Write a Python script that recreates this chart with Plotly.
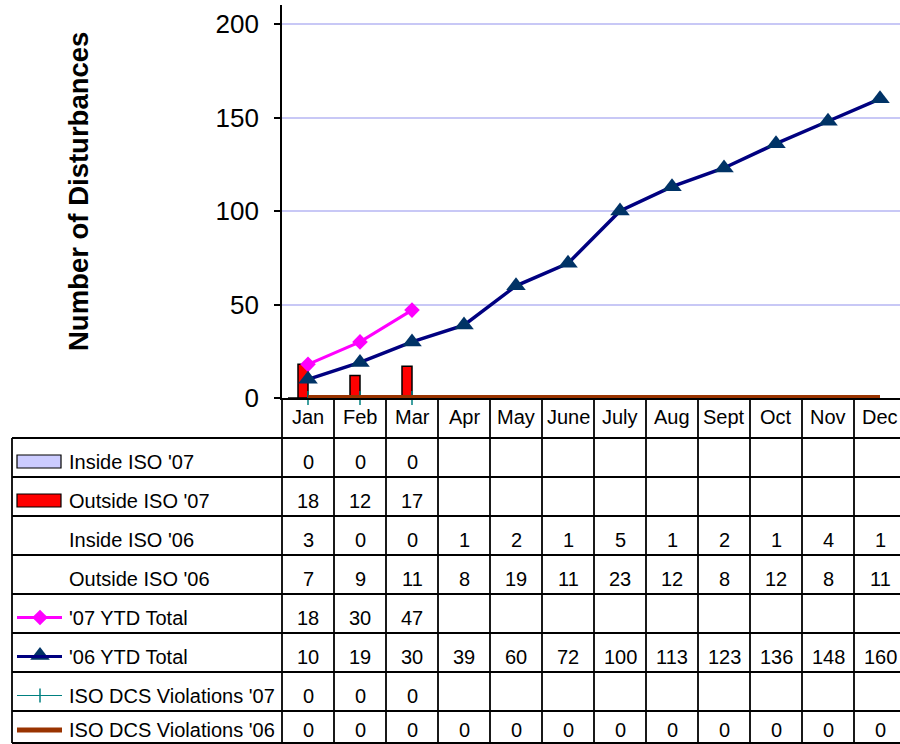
import plotly.graph_objects as go

months = ["Jan", "Feb", "Mar", "Apr", "May", "June", "July", "Aug", "Sept", "Oct", "Nov", "Dec"]
inside07 = [0, 0, 0]
outside07 = [18, 12, 17]
inside06 = [3, 0, 0, 1, 2, 1, 5, 1, 2, 1, 4, 1]
outside06 = [7, 9, 11, 8, 19, 11, 23, 12, 8, 12, 8, 11]
ytd07 = [18, 30, 47]
ytd06 = [10, 19, 30, 39, 60, 72, 100, 113, 123, 136, 148, 160]
dcs07 = [0, 0, 0]
dcs06 = [0, 0, 0, 0, 0, 0, 0, 0, 0, 0, 0, 0]
yticks = [0, 50, 100, 150, 200]

row_names = ["Inside ISO '07", "Outside ISO '07", "Inside ISO '06", "Outside ISO '06",
             "'07 YTD Total", "'06 YTD Total", "ISO DCS Violations '07", "ISO DCS Violations '06"]
row_values = [inside07, outside07, inside06, outside06, ytd07, ytd06, dcs07, dcs06]

FONT = "Arial, Liberation Sans, sans-serif"
W, H = 900, 744
PL, PR = 282, 900        # plot area left/right (px)
PT, PB = 5, 398          # plot area top/bottom (px)
CW = 52.0                # category width in px
ROW_TOP = 438
ROW_H = 39
TBL_BOTTOM = 743
LEFT = 12

NAVY = "#000080"
NAVY_M = "#003366"
MAG = "#FF00FF"
TEAL = "#008080"
BROWN = "#993300"
LAV = "#CCCCFF"
GRID = "#C8C8F6"

fig = go.Figure()

# bars (4-series cluster; '06 series have no fill)
fig.add_trace(go.Bar(x=months[:len(inside07)], y=inside07, name="Inside ISO '07",
                     marker=dict(color=LAV, line=dict(color="black", width=1.5))))
fig.add_trace(go.Bar(x=months[:len(outside07)], y=outside07, name="Outside ISO '07",
                     marker=dict(color="#FF0000", line=dict(color="black", width=1.5))))
fig.add_trace(go.Bar(x=months, y=inside06, name="Inside ISO '06",
                     marker=dict(color="rgba(0,0,0,0)", line=dict(width=0))))
fig.add_trace(go.Bar(x=months, y=outside06, name="Outside ISO '06",
                     marker=dict(color="rgba(0,0,0,0)", line=dict(width=0))))

# lines
fig.add_trace(go.Scatter(x=months[:len(ytd07)], y=ytd07, mode="lines+markers", name="'07 YTD Total",
                         line=dict(color=MAG, width=3),
                         marker=dict(symbol="diamond", size=12, color=MAG)))
fig.add_trace(go.Scatter(x=months, y=ytd06, mode="lines+markers", name="'06 YTD Total",
                         line=dict(color=NAVY, width=3.5),
                         marker=dict(symbol="triangle-up", size=17, color=NAVY_M)))
fig.add_trace(go.Scatter(x=months[:len(dcs07)], y=dcs07, mode="lines+markers", name="ISO DCS Violations '07",
                         line=dict(color=TEAL, width=1), cliponaxis=False,
                         marker=dict(symbol="line-ns", size=10, line=dict(color=TEAL, width=1.5))))
fig.add_trace(go.Scatter(x=months, y=dcs06, mode="lines", name="ISO DCS Violations '06",
                         line=dict(color=BROWN, width=6)))

# legend keys in the table's left column (aux pixel axes)
def rc(i):
    c = ROW_TOP + ROW_H * i + ROW_H / 2 + 4
    return min(c, TBL_BOTTOM - 13)

key_x0, key_x1, key_xm = 17, 62, 40
shapes = []
for i, col in [(0, LAV), (1, "#FF0000")]:
    shapes.append(dict(type="rect", xref="x2", yref="y2", x0=key_x0, x1=61,
                       y0=rc(i) - 6.5, y1=rc(i) + 6.5, fillcolor=col,
                       line=dict(color="black", width=1.2)))
key_lines = [(4, MAG, 3), (5, NAVY, 3), (6, TEAL, 1), (7, BROWN, 5)]
for i, col, w in key_lines:
    shapes.append(dict(type="line", xref="x2", yref="y2", x0=key_x0, x1=key_x1,
                       y0=rc(i), y1=rc(i), line=dict(color=col, width=w)))

fig.add_trace(go.Scatter(x=[key_xm], y=[rc(4)], xaxis="x2", yaxis="y2", mode="markers",
                         marker=dict(symbol="diamond", size=12, color=MAG), showlegend=False, hoverinfo="skip"))
fig.add_trace(go.Scatter(x=[key_xm], y=[rc(5) - 1], xaxis="x2", yaxis="y2", mode="markers",
                         marker=dict(symbol="triangle-up", size=17, color=NAVY_M), showlegend=False, hoverinfo="skip"))
fig.add_trace(go.Scatter(x=[key_xm], y=[rc(6)], xaxis="x2", yaxis="y2", mode="markers",
                         marker=dict(symbol="line-ns", size=10, line=dict(color=TEAL, width=1.5)),
                         showlegend=False, hoverinfo="skip"))

# table grid
LW = 1.8
for k in range(len(row_names) + 1):
    yy = min(ROW_TOP + ROW_H * k, TBL_BOTTOM)
    shapes.append(dict(type="line", xref="x2", yref="y2", x0=LEFT, x1=W, y0=yy, y1=yy,
                       line=dict(color="black", width=LW)))
shapes.append(dict(type="line", xref="x2", yref="y2", x0=LEFT, x1=LEFT, y0=ROW_TOP, y1=TBL_BOTTOM,
                   line=dict(color="black", width=LW)))
shapes.append(dict(type="line", xref="x2", yref="y2", x0=PL, x1=PL, y0=PB, y1=TBL_BOTTOM,
                   line=dict(color="black", width=LW)))
for j in range(len(months)):
    shapes.append(dict(type="line", xref="x", yref="y2", x0=j + 0.5, x1=j + 0.5, y0=PB, y1=TBL_BOTTOM,
                       line=dict(color="black", width=LW)))

annotations = []
for j, m in enumerate(months):
    annotations.append(dict(xref="x", yref="y2", x=j, y=417, text=m, showarrow=False,
                            font=dict(family=FONT, size=20, color="black")))
for i, (name, vals) in enumerate(zip(row_names, row_values)):
    annotations.append(dict(xref="x2", yref="y2", x=67, y=rc(i), text=name, showarrow=False,
                            xanchor="left", font=dict(family=FONT, size=20, color="black")))
    for j, v in enumerate(vals):
        annotations.append(dict(xref="x", yref="y2", x=j, y=rc(i), text=str(v), showarrow=False,
                                font=dict(family=FONT, size=20, color="black")))
annotations.append(dict(xref="x2", yref="y2", x=78, y=192, text="<b>Number of Disturbances</b>",
                        textangle=-90, showarrow=False, font=dict(family=FONT, size=27.5, color="black")))

fig.update_layout(
    width=W, height=H,
    margin=dict(l=0, r=0, t=0, b=0, pad=0, autoexpand=False),
    paper_bgcolor="white", plot_bgcolor="rgba(0,0,0,0)",
    showlegend=False,
    barmode="group", bargap=12 / CW, bargroupgap=0,
    xaxis=dict(domain=[PL / W, PR / W], type="category", range=[-0.5, -0.5 + (PR - PL) / CW],
               showticklabels=False, ticks="", showgrid=False, showline=True, automargin=False,
               linecolor="black", linewidth=LW, zeroline=False, fixedrange=True),
    yaxis=dict(domain=[(H - PB) / H, (H - PT) / H], range=[0, (PB - PT) / (374.0 / 200)],
               tickvals=yticks, ticks="outside", ticklen=6, tickwidth=1.5, tickcolor="black",
               showline=True, linecolor="black", linewidth=LW, showgrid=True, automargin=False,
               gridcolor=GRID, gridwidth=1.5, zeroline=False, ticklabelstandoff=10,
               tickfont=dict(family=FONT, size=26, color="black"), fixedrange=True),
    xaxis2=dict(domain=[0, 1], range=[0, W], visible=False, anchor="y2", fixedrange=True, automargin=False),
    yaxis2=dict(domain=[0, 1], range=[H, 0], visible=False, anchor="x2", fixedrange=True, automargin=False),
    shapes=shapes,
    annotations=annotations,
)

fig.write_html("out.html", config={"displayModeBar": False},
               post_script="document.body.style.margin='0px';document.body.style.overflow='hidden';")
